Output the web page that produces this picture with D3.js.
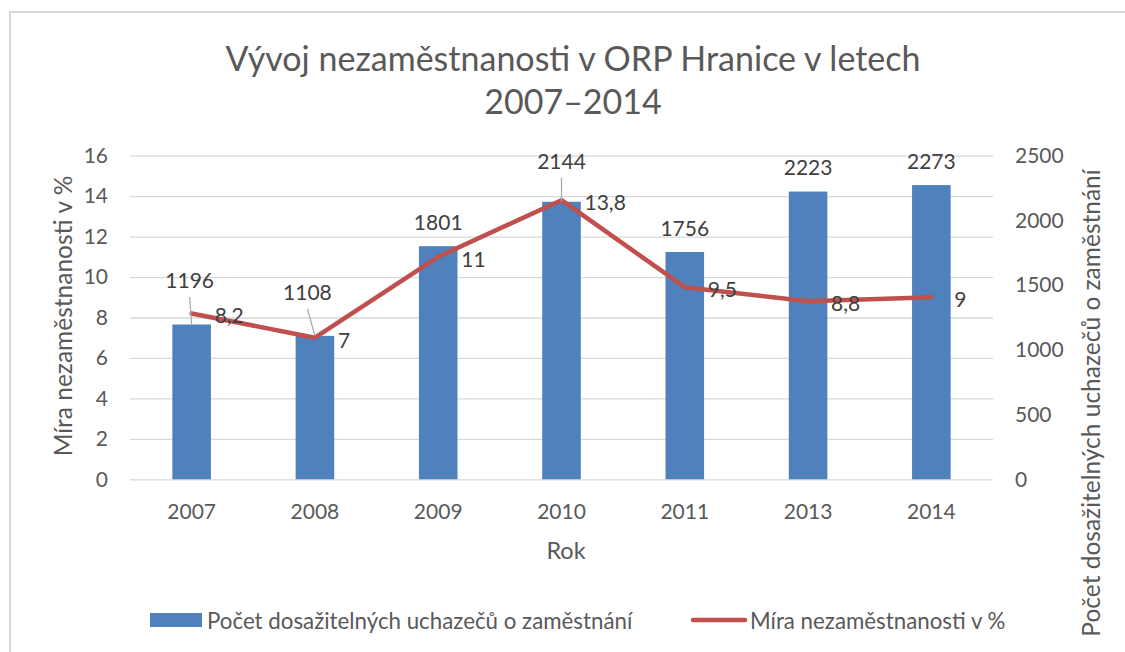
<!DOCTYPE html>
<html>
<head>
<meta charset="utf-8">
<script src="https://cdn.jsdelivr.net/npm/d3@7/dist/d3.min.js"></script>
<style>
  html, body { margin: 0; padding: 0; background: #fff; }
  svg { display: block; }
  text { font-family: Lato, "Open Sans", sans-serif; }
</style>
</head>
<body>
<svg id="chart" width="1125" height="652"></svg>
<script>
// Years on the category axis
const years = ["2007", "2008", "2009", "2010", "2011", "2013", "2014"];
// Number of available job seekers (bars, right axis)
const jobSeekers = [1196, 1108, 1801, 2144, 1756, 2223, 2273];
// Unemployment rate in % (line, left axis)
const unemploymentRate = [8.2, 7, 11, 13.8, 9.5, 8.8, 9];
// Axis ticks
const leftTicks = [0, 2, 4, 6, 8, 10, 12, 14, 16];
const rightTicks = [0, 500, 1000, 1500, 2000, 2500];

const titleLines = ["Vývoj nezaměstnanosti v ORP Hranice v letech", "2007–2014"];
const leftAxisTitle = "Míra nezaměstnanosti v %";
const rightAxisTitle = "Počet dosažitelných uchazečů o zaměstnání";
const xAxisTitle = "Rok";
const barSeriesName = "Počet dosažitelných uchazečů o zaměstnání";
const lineSeriesName = "Míra nezaměstnanosti v %";

const BAR_COLOR = "#4F81BD";
const LINE_COLOR = "#C0504D";
const GRID_COLOR = "#d9d9d9";
const TEXT_COLOR = "#595959";
const LABEL_COLOR = "#404040";
const FONT = "Lato, sans-serif";

const svg = d3.select("#chart");

// chart frame
svg.append("rect")
  .attr("x", 10).attr("y", 12)
  .attr("width", 1140).attr("height", 660)
  .attr("fill", "none").attr("stroke", GRID_COLOR).attr("stroke-width", 2);

const plot = { left: 130, right: 993, top: 155.7, bottom: 479.3 };

const x = d3.scaleBand().domain(years).range([plot.left, plot.right]).padding(0);
const yLeft = d3.scaleLinear().domain([0, 16]).range([plot.bottom, plot.top]);
const yRight = d3.scaleLinear().domain([0, 2500]).range([plot.bottom, plot.top]);
const barW = x.bandwidth() * 0.313;
const cx = d => x(d) + x.bandwidth() / 2;

// title
svg.append("g").selectAll("text").data(titleLines).join("text")
  .attr("x", 573).attr("y", (d, i) => 57 + i * 43)
  .attr("text-anchor", "middle").attr("dominant-baseline", "central")
  .attr("font-size", 34).attr("fill", TEXT_COLOR)
  .text(d => d);

// gridlines from the left axis
const grid = d3.axisLeft(yLeft).tickValues(leftTicks)
  .tickSize(-(plot.right - plot.left)).tickFormat("");
svg.append("g").attr("transform", `translate(${plot.left},0)`).call(grid)
  .call(g => g.select(".domain").remove())
  .call(g => g.selectAll("line").attr("stroke", GRID_COLOR).attr("stroke-width", 1.3));

// left axis labels
svg.append("g").attr("transform", `translate(${plot.left},0)`)
  .call(d3.axisLeft(yLeft).tickValues(leftTicks).tickSize(0).tickPadding(22))
  .call(g => g.select(".domain").remove())
  .call(g => g.selectAll("text").attr("font-size", 21).attr("fill", TEXT_COLOR)
    .attr("font-family", FONT));

// right axis labels
svg.append("g").attr("transform", `translate(${plot.right},0)`)
  .call(d3.axisRight(yRight).tickValues(rightTicks).tickFormat(d3.format("d"))
    .tickSize(0).tickPadding(22))
  .call(g => g.select(".domain").remove())
  .call(g => g.selectAll("text").attr("font-size", 21).attr("fill", TEXT_COLOR)
    .attr("font-family", FONT));

// category axis labels
svg.append("g").attr("transform", `translate(0,${plot.bottom})`)
  .call(d3.axisBottom(x).tickSize(0).tickPadding(31))
  .call(g => g.select(".domain").remove())
  .call(g => g.selectAll("text").attr("font-size", 21).attr("fill", TEXT_COLOR)
    .attr("font-family", FONT).attr("dy", null)
    .attr("dominant-baseline", "central"));

// axis titles
svg.append("text").attr("x", 566).attr("y", 550)
  .attr("text-anchor", "middle").attr("dominant-baseline", "central")
  .attr("font-size", 23.5).attr("fill", TEXT_COLOR).text(xAxisTitle);
svg.append("text").attr("transform", "translate(62,316) rotate(-90)")
  .attr("text-anchor", "middle").attr("dominant-baseline", "central")
  .attr("font-size", 24.5).attr("fill", TEXT_COLOR).text(leftAxisTitle);
svg.append("text").attr("transform", "translate(1090,403) rotate(-90)")
  .attr("text-anchor", "middle").attr("dominant-baseline", "central")
  .attr("font-size", 24.5).attr("fill", TEXT_COLOR).text(rightAxisTitle);

// bars
const barData = years.map((y, i) => ({ year: y, value: jobSeekers[i] }));
svg.append("g").selectAll("rect").data(barData).join("rect")
  .attr("x", d => cx(d.year) - barW / 2)
  .attr("y", d => yRight(d.value))
  .attr("width", barW)
  .attr("height", d => plot.bottom - yRight(d.value))
  .attr("fill", BAR_COLOR);

// line
const lineData = years.map((y, i) => ({ year: y, value: unemploymentRate[i] }));
const line = d3.line().x(d => cx(d.year)).y(d => yLeft(d.value));
svg.append("path").datum(lineData)
  .attr("d", line).attr("fill", "none")
  .attr("stroke", LINE_COLOR).attr("stroke-width", 4.5)
  .attr("stroke-linejoin", "round").attr("stroke-linecap", "round");

// bar value labels; a few are lifted and tied back with leader lines
const liftedLabels = { "2007": [-2, -19.5], "2008": [-7.5, -19], "2010": [0, -16] };
const barLabels = svg.append("g");
barData.forEach(d => {
  const shift = liftedLabels[d.year] || [0, 0];
  const lx = cx(d.year) + shift[0];
  const ly = yRight(d.value) - 25 + shift[1];
  if (liftedLabels[d.year]) {
    barLabels.append("line")
      .attr("x1", lx).attr("y1", ly + 17)
      .attr("x2", cx(d.year)).attr("y2", yRight(d.value))
      .attr("stroke", "#a6a6a6").attr("stroke-width", 1.2);
  }
  barLabels.append("text")
    .attr("x", lx).attr("y", ly)
    .attr("text-anchor", "middle").attr("dominant-baseline", "central")
    .attr("font-size", 21).attr("fill", LABEL_COLOR)
    .text(d.value);
});

// line value labels (comma as decimal separator)
const fmt = v => String(v).replace(".", ",");
svg.append("g").selectAll("text").data(lineData).join("text")
  .attr("x", d => cx(d.year) + 23)
  .attr("y", d => yLeft(d.value) + 1.5)
  .attr("dominant-baseline", "central")
  .attr("font-size", 21).attr("fill", LABEL_COLOR)
  .text(d => fmt(d.value));

// legend
const legend = svg.append("g");
legend.append("rect").attr("x", 150).attr("y", 613).attr("width", 52).attr("height", 14)
  .attr("fill", BAR_COLOR);
legend.append("text").attr("x", 207).attr("y", 620)
  .attr("dominant-baseline", "central").attr("font-size", 22.3).attr("fill", TEXT_COLOR)
  .text(barSeriesName);
legend.append("line").attr("x1", 693).attr("x2", 745).attr("y1", 620).attr("y2", 620)
  .attr("stroke", LINE_COLOR).attr("stroke-width", 4.5).attr("stroke-linecap", "round");
legend.append("text").attr("x", 750).attr("y", 620)
  .attr("dominant-baseline", "central").attr("font-size", 22.3).attr("fill", TEXT_COLOR)
  .text(lineSeriesName);
</script>
</body>
</html>
